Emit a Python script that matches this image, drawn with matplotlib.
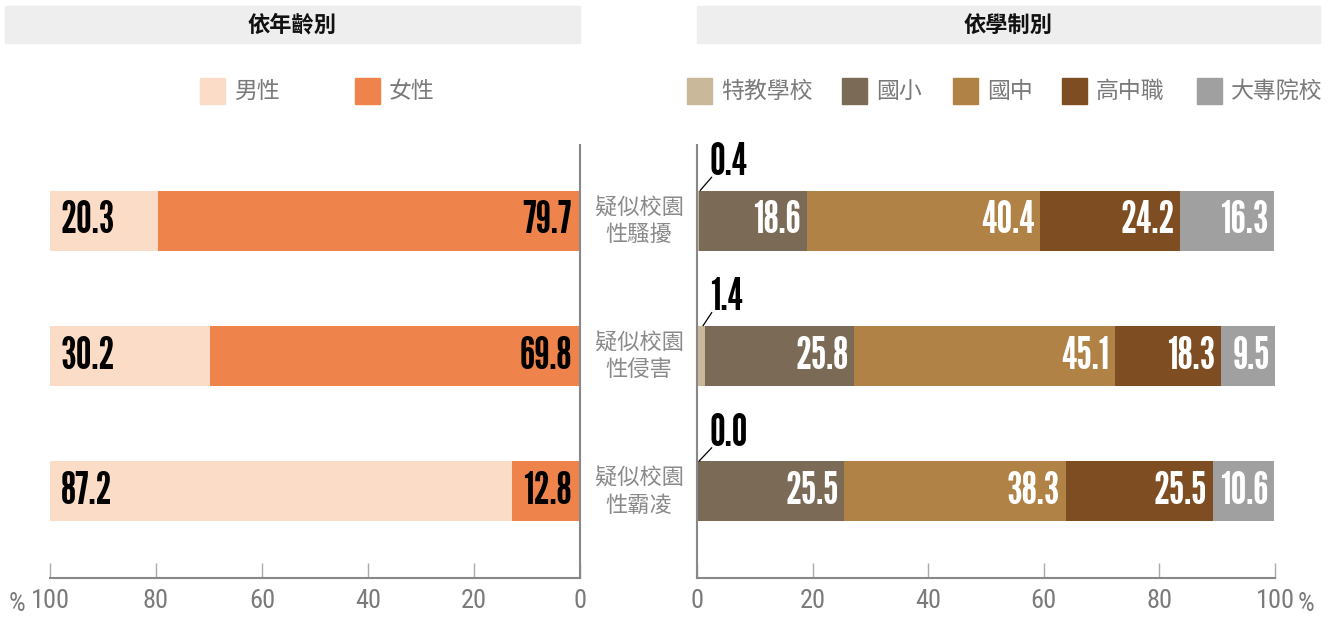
import matplotlib.pyplot as plt
from matplotlib.patches import Rectangle

plt.rcParams['font.family'] = ['Noto Sans CJK TC', 'DejaVu Sans']

# data
categorias = ['疑似校園\n性騷擾', '疑似校園\n性侵害', '疑似校園\n性霸凌']
sexo = ['男性', '女性']
hombres = [20.3, 30.2, 87.2]
mujeres = [79.7, 69.8, 12.8]
niveles = ['特教學校', '國小', '國中', '高中職', '大專院校']
especial = [0.4, 1.4, 0.0]
primaria = [18.6, 25.8, 25.5]
secundaria = [40.4, 45.1, 38.3]
preparatoria = [24.2, 18.3, 25.5]
universidad = [16.3, 9.5, 10.6]
ticks = [0, 20, 40, 60, 80, 100]

coloresSexo = ['#fbdcc7', '#ee844b']
coloresNivel = ['#c9b99a', '#7b6a56', '#b08246', '#7e4e22', '#a0a0a0']
gris = '#7a7a7a'
numFont = ['League Gothic', 'Antonio', 'Bebas Neue', 'Oswald', 'Roboto Condensed', 'DejaVu Sans']
tickFont = ['Roboto Condensed', 'Archivo Narrow', 'PT Sans Narrow', 'Liberation Sans Narrow', 'DejaVu Sans']
tamNum = 32

W, H = 1335, 617
fig = plt.figure(figsize=(W / 100, H / 100), dpi=100)

ax1 = fig.add_axes([50 / W, 1 - 578 / H, 530 / W, 433 / H])
ax2 = fig.add_axes([697 / W, 1 - 578 / H, 578 / W, 433 / H])

alto = 0.443
filas = list(range(len(categorias)))

# panel izquierdo (eje invertido: 100 a la izquierda)
ax1.barh(filas, mujeres, height=alto, color=coloresSexo[1])
ax1.barh(filas, hombres, left=mujeres, height=alto, color=coloresSexo[0])
for i in filas:
    ax1.text(98, i, '{0}'.format(hombres[i]), ha='left', va='center',
             family=numFont, weight='bold', fontsize=tamNum, color='black')
    ax1.text(1.5, i, '{0}'.format(mujeres[i]), ha='right', va='center',
             family=numFont, weight='bold', fontsize=tamNum, color='black')
ax1.set_xlim(100, 0)

# panel derecho (apilado)
series = [especial, primaria, secundaria, preparatoria, universidad]
izquierda = [0, 0, 0]
for k, serie in enumerate(series):
    ax2.barh(filas, serie, left=izquierda, height=alto, color=coloresNivel[k])
    for i in filas:
        fin = izquierda[i] + serie[i]
        if k == 0:
            # valor pequeño: etiqueta arriba con línea guía
            ax2.plot([serie[i] / 2 + 0.3, 2.6], [i - alto / 2, i - 0.325], color='black', lw=0.9,
                     solid_capstyle='butt', clip_on=False)
            ax2.text(2.2, i - 0.43, '{0}'.format(serie[i]), ha='left', va='center',
                     family=numFont, weight='bold', fontsize=tamNum, color='black')
        else:
            ax2.text(fin - 1.0, i, '{0}'.format(serie[i]), ha='right', va='center',
                     family=numFont, weight='bold', fontsize=tamNum, color='white')
    izquierda = [izquierda[i] + serie[i] for i in filas]
ax2.set_xlim(0, 100)

for i in filas:
    ax2.text(-10.0, i, categorias[i], ha='center', va='center', fontsize=16,
             color='#8a8a8a', linespacing=1.25, clip_on=False)

for ax in (ax1, ax2):
    ax.set_ylim(2.64, -0.56)
    ax.set_yticks([])
    ax.set_xticks(ticks)
    ax.set_xticklabels([str(t) for t in ticks], family=tickFont, fontsize=19, color=gris)
    ax.tick_params(axis='x', direction='in', length=11, width=1, color='#aaaaaa', pad=8)
    ax.spines['top'].set_visible(False)
    for s in ('left', 'right', 'bottom'):
        ax.spines[s].set_color('#888888')
        ax.spines[s].set_linewidth(1.5)
ax1.spines['left'].set_visible(False)
ax2.spines['right'].set_visible(False)

fig.text(17 / W, 1 - 604 / H, '%', ha='center', va='center', family=tickFont, fontsize=19, color=gris)
fig.text(1306 / W, 1 - 604 / H, '%', ha='center', va='center', family=tickFont, fontsize=19, color=gris)

# encabezados
for (x0, x1, titulo) in [(5, 580, '依年齡別'), (697, 1320, '依學制別')]:
    fig.patches.append(Rectangle((x0 / W, 1 - 43 / H), (x1 - x0) / W, 37 / H,
                                 transform=fig.transFigure, color='#eeeeee', zorder=0))
    fig.text((x0 + x1) / 2 / W, 1 - 25 / H, titulo, ha='center', va='center',
             fontsize=16, weight='bold', color='#111111')

# leyendas
ly = 1 - 91 / H
posSexo = [200, 355]
posNivel = [687, 842, 953, 1062, 1197]
for nombres, colores, posiciones in [(sexo, coloresSexo, posSexo), (niveles, coloresNivel, posNivel)]:
    for nombre, color, x in zip(nombres, colores, posiciones):
        fig.patches.append(Rectangle((x / W, ly - 12.5 / H), 25 / W, 25 / H,
                                     transform=fig.transFigure, color=color))
        fig.text((x + 34) / W, ly, nombre, ha='left', va='center', fontsize=16.5, color=gris)

plt.savefig('out.png', dpi=100)
